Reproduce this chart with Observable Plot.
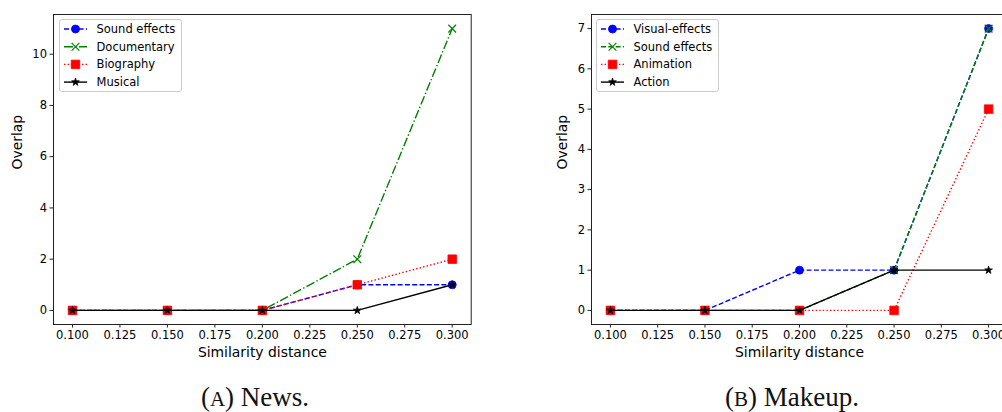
<!DOCTYPE html>
<html>
<head>
<meta charset="utf-8">
<script src="https://cdn.jsdelivr.net/npm/d3@7"></script>
<script src="https://cdn.jsdelivr.net/npm/@observablehq/plot@0.6"></script>
<style>
  html, body { margin: 0; padding: 0; background: #fff; }
  body { width: 1002px; height: 412px; overflow: hidden; position: relative; font-family: "DejaVu Sans", sans-serif; }
  .panel { position: absolute; top: 0; }
  .panel svg { max-width: none !important; }
  .legend { position: absolute; }
  .caption { position: absolute; width: 300px; text-align: center; font-family: "Liberation Serif", "DejaVu Serif", serif; font-size: 27px; color: #111; line-height: 30px; }
  .caption .sc { font-size: 0.78em; }
</style>
</head>
<body>
<div id="left" class="panel" style="left:0px; width:500px"></div>
<div id="right" class="panel" style="left:500px; width:520px"></div>
<div class="caption" style="left:105px; top:382px">(<span class="sc">A</span>) News.</div>
<div class="caption" style="left:642px; top:382px">(<span class="sc">B</span>) Makeup.</div>
<script>
// ---- data ----
const xValues = [0.1, 0.15, 0.2, 0.25, 0.3];
const xTicks = [0.1, 0.125, 0.15, 0.175, 0.2, 0.225, 0.25, 0.275, 0.3];

const newsNames = ["Sound effects", "Documentary", "Biography", "Musical"];
const newsSoundEffects = [0, 0, 0, 1, 1];
const newsDocumentary = [0, 0, 0, 2, 11];
const newsBiography = [0, 0, 0, 1, 2];
const newsMusical = [0, 0, 0, 0, 1];
const newsYTicks = [0, 2, 4, 6, 8, 10];

const makeupNames = ["Visual-effects", "Sound effects", "Animation", "Action"];
const makeupVisualEffects = [0, 0, 1, 1, 7];
const makeupSoundEffects = [0, 0, 0, 1, 7];
const makeupAnimation = [0, 0, 0, 0, 5];
const makeupAction = [0, 0, 0, 1, 1];
const makeupYTicks = [0, 1, 2, 3, 4, 5, 6, 7];

const xLabel = "Similarity distance";
const yLabel = "Overlap";

// ---- styles ----
const DASHED = "5,2.3";
const DASHDOT = "9,2.3,1.4,2.3";
const DOTTED = "1.4,2.2";
const sBlue = {color: "#0000ff", dash: DASHED, symbol: "circle", r: 4, filled: true};
const sGreenDD = {color: "#008000", dash: DASHDOT, symbol: "times", r: 3.6, filled: false};
const sGreenD = {color: "#008000", dash: DASHED, symbol: "times", r: 3.6, filled: false};
const sRed = {color: "#ff0000", dash: DOTTED, symbol: "square", r: 4.8, filled: true};
const sBlack = {color: "#000000", dash: null, symbol: "star", r: 2.4, filled: true};

function buildSeries(names, valueArrays, styles) {
  return names.map((name, i) => ({
    name,
    style: styles[i],
    data: xValues.map((x, j) => ({x, y: valueArrays[i][j]}))
  }));
}

const newsSeries = buildSeries(newsNames,
  [newsSoundEffects, newsDocumentary, newsBiography, newsMusical],
  [sBlue, sGreenDD, sRed, sBlack]);
const makeupSeries = buildSeries(makeupNames,
  [makeupVisualEffects, makeupSoundEffects, makeupAnimation, makeupAction],
  [sBlue, sGreenD, sRed, sBlack]);

function chart(series, yDomain, yTicks, width, marginLeft, marginRight, yLabelDx) {
  const marks = [];
  for (const s of series) {
    const st = s.style;
    marks.push(Plot.line(s.data, {
      x: "x", y: "y", stroke: st.color, strokeWidth: 1.4,
      strokeDasharray: st.dash || undefined, strokeLinecap: "butt"
    }));
    marks.push(Plot.dot(s.data, {
      x: "x", y: "y", symbol: st.symbol, r: st.r,
      fill: st.filled ? st.color : "none",
      stroke: st.color, strokeWidth: st.filled ? 0.8 : 1.2
    }));
  }
  marks.push(Plot.frame({stroke: "#222", strokeWidth: 1}));
  marks.push(Plot.axisX({ticks: xTicks, tickFormat: d3.format(".3f"), tickSize: 3.5, tickPadding: 3, fontSize: 11.5, label: null, stroke: "#222"}));
  marks.push(Plot.axisY({ticks: yTicks, tickFormat: d3.format("d"), tickSize: 3.5, tickPadding: 3, fontSize: 11.5, label: null, stroke: "#222"}));
  marks.push(Plot.text([xLabel], {text: d => d, frameAnchor: "bottom", dy: 32, fontSize: 13.9, fill: "#000"}));
  marks.push(Plot.text([yLabel], {text: d => d, frameAnchor: "left", dx: yLabelDx, rotate: -90, fontSize: 13.9, fill: "#000"}));
  return Plot.plot({
    width, height: 380,
    marginLeft, marginRight, marginTop: 14, marginBottom: 56,
    style: {fontFamily: "DejaVu Sans, sans-serif", background: "#fff", color: "#000", overflow: "visible", maxWidth: "none"},
    x: {domain: [0.09, 0.31]},
    y: {domain: yDomain},
    marks
  });
}

function legend(series, left, top, width) {
  const h = 73;
  const svg = d3.create("svg").attr("width", width).attr("height", h).attr("class", "legend")
    .style("left", left + "px").style("top", top + "px");
  svg.append("rect").attr("x", 0.5).attr("y", 0.5).attr("width", width - 1).attr("height", h - 1)
    .attr("rx", 2.5).attr("fill", "rgba(255,255,255,0.85)").attr("stroke", "#cccccc");
  series.forEach((s, i) => {
    const st = s.style;
    const cy = 10 + i * 17.7;
    svg.append("line").attr("x1", 5).attr("x2", 28).attr("y1", cy).attr("y2", cy)
      .attr("stroke", st.color).attr("stroke-width", 1.4)
      .attr("stroke-dasharray", st.dash || null);
    const symMap = {circle: d3.symbolCircle, times: d3.symbolTimes, square: d3.symbolSquare, star: d3.symbolStar};
    const path = d3.symbol(symMap[st.symbol], Math.PI * st.r * st.r)();
    svg.append("path").attr("d", path).attr("transform", `translate(16.5,${cy})`)
      .attr("fill", st.filled ? st.color : "none").attr("stroke", st.color)
      .attr("stroke-width", st.filled ? 0.8 : 1.2);
    svg.append("text").attr("x", 37.5).attr("y", cy).attr("dy", "0.35em")
      .attr("font-size", 11.5).attr("font-family", "DejaVu Sans, sans-serif").attr("fill", "#000")
      .text(s.name);
  });
  return svg.node();
}

document.getElementById("left").append(chart(newsSeries, [-0.55, 11.55], newsYTicks, 500, 53, 29.3, -36));
document.getElementById("right").append(chart(makeupSeries, [-0.35, 7.35], makeupYTicks, 520, 91, 13, -29));
document.body.append(legend(newsSeries, 59, 19, 123));
document.body.append(legend(makeupSeries, 596, 19, 123));
</script>
</body>
</html>
